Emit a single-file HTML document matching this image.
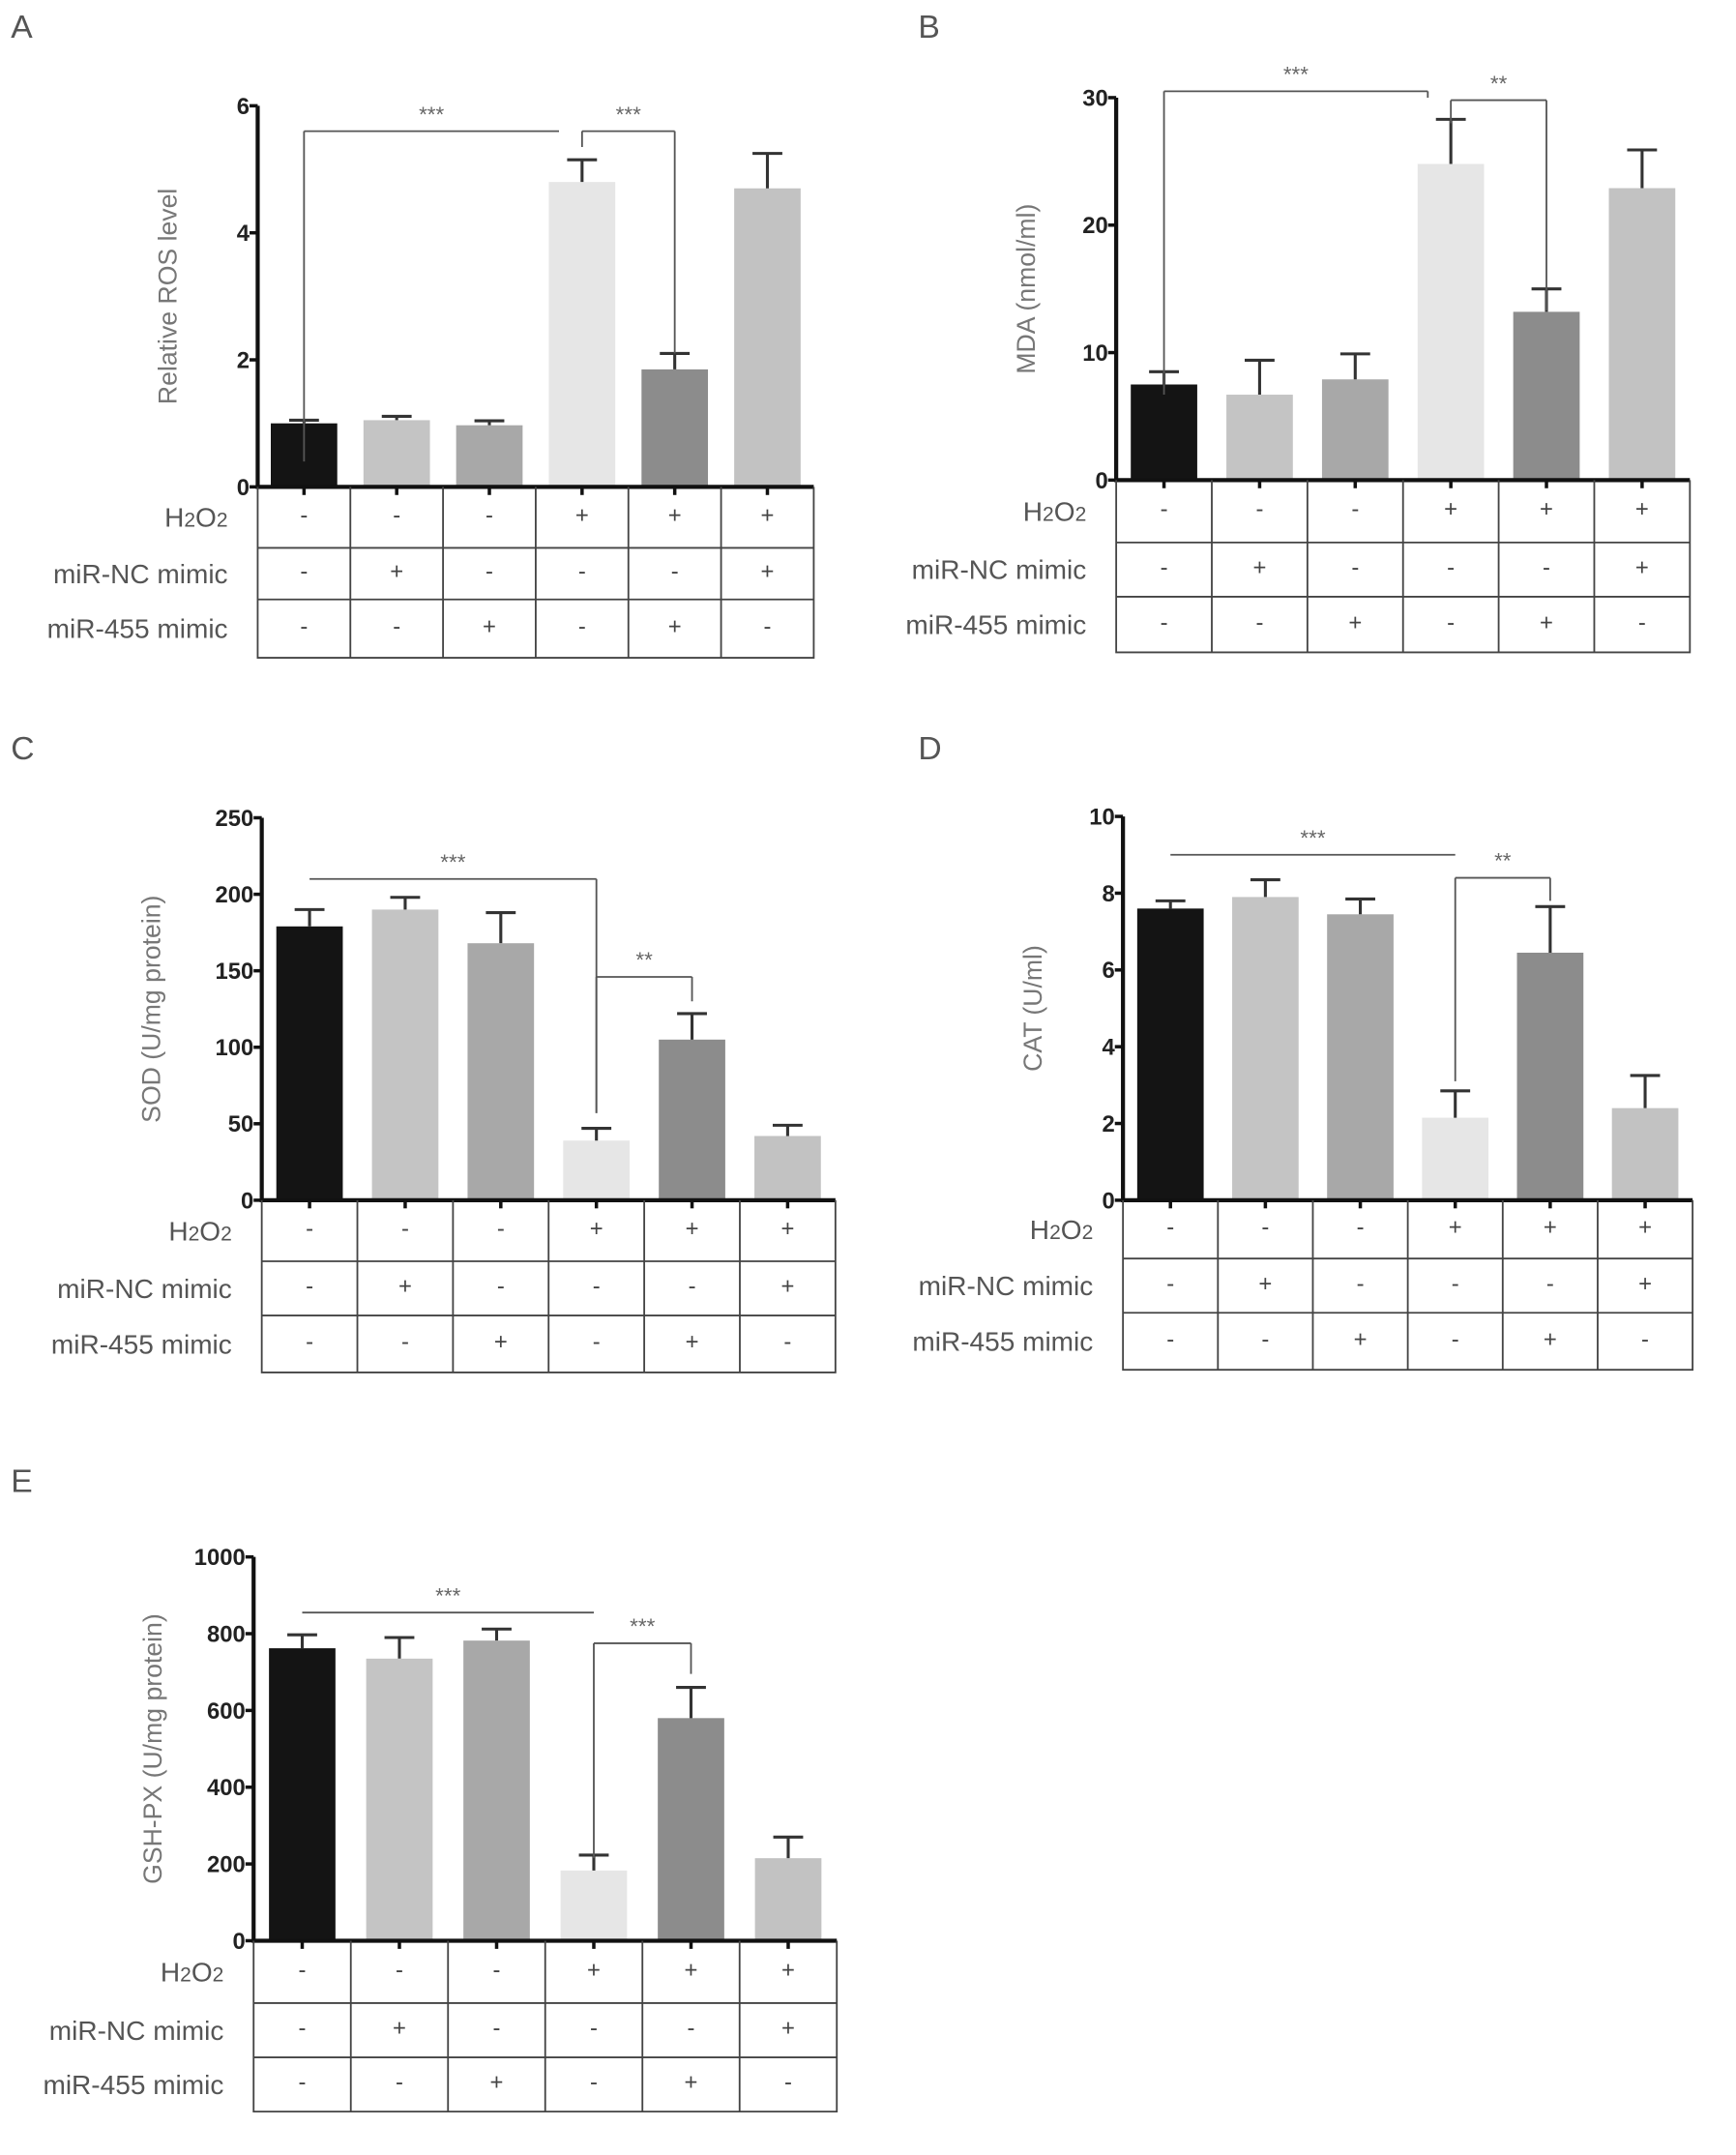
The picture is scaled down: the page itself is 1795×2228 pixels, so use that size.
<!DOCTYPE html>
<html><head><meta charset="utf-8"><style>
html,body{margin:0;padding:0;background:#fff}
svg{display:block}
text{font-family:"Liberation Sans",sans-serif}
</style></head><body>
<svg id="fig" width="1795" height="2228" viewBox="0 0 1280 1589" preserveAspectRatio="none" xmlns="http://www.w3.org/2000/svg"></svg>
<script>
// ---- data ----
const groupLabels = ["G1","G2","G3","G4","G5","G6"];
const h2o2Row = ["-","-","-","+","+","+"];
const ncRow = ["-","+","-","-","-","+"];
const mir455Row = ["-","-","+","-","+","-"];
const rosValues = [1.0, 1.05, 0.97, 4.8, 1.85, 4.7];
const rosErrors = [0.05, 0.06, 0.07, 0.35, 0.25, 0.55];
const rosTicks = [0, 2, 4, 6];
const mdaValues = [7.5, 6.7, 7.9, 24.8, 13.2, 22.9];
const mdaErrors = [1.0, 2.7, 2.0, 3.5, 1.8, 3.0];
const mdaTicks = [0, 10, 20, 30];
const sodValues = [179, 190, 168, 39, 105, 42];
const sodErrors = [11, 8, 20, 8, 17, 7];
const sodTicks = [0, 50, 100, 150, 200, 250];
const catValues = [7.6, 7.9, 7.45, 2.15, 6.45, 2.4];
const catErrors = [0.2, 0.45, 0.4, 0.7, 1.2, 0.85];
const catTicks = [0, 2, 4, 6, 8, 10];
const gshValues = [762, 735, 782, 183, 580, 215];
const gshErrors = [35, 55, 30, 40, 80, 55];
const gshTicks = [0, 200, 400, 600, 800, 1000];

const colors = ["#141414","#c4c4c4","#a8a8a8","#e6e6e6","#8c8c8c","#c2c2c2"];
const NS = "http://www.w3.org/2000/svg";
const svg = document.getElementById("fig");
function mk(tag, attrs, parent){
  const e = document.createElementNS(NS, tag);
  for (const k in attrs) e.setAttribute(k, attrs[k]);
  (parent||svg).appendChild(e); return e;
}
function txt(s, attrs, parent){ const e = mk("text", attrs, parent); e.textContent = s; return e; }

function panel(cfg){
  const g = mk("g", {});
  
  
  const max = cfg.ticks[cfg.ticks.length-1];
  const y = v => cfg.bot - (v/max)*(cfg.bot-cfg.top);
  const step = (cfg.right - cfg.ax)/6;
  const cx = i => cfg.ax + step*(i+0.5);
  const bw = 49;
  const letter = txt(cfg.letter, {x:cfg.lx, y:cfg.ly, "font-size":24, fill:"#555"}, g);
  
  
  cfg.values.forEach((v,i)=>{
    const r = mk("rect", {x:cx(i)-bw/2, y:y(v), width:bw, height:cfg.bot-y(v), fill:colors[i]}, g);
    
    
    const et = y(v+cfg.errors[i]);
    const eb = mk("path", {d:`M${cx(i)} ${y(v)}V${et}M${cx(i)-11} ${et}H${cx(i)+11}`, stroke:"#333", "stroke-width":2.2, fill:"none"}, g);
    
    
  });
  const ax = mk("path", {d:`M${cfg.ax} ${cfg.top}V${cfg.bot}H${cfg.right}`, stroke:"#111", "stroke-width":3, fill:"none"}, g);
  
  
  cfg.ticks.forEach(t=>{
    mk("line", {x1:cfg.ax-6, x2:cfg.ax, y1:y(t), y2:y(t), stroke:"#111", "stroke-width":2.5}, g);
    const tl = txt(String(t), {x:cfg.ax-6, y:y(t)+6, "font-size":17, "font-weight":"bold", fill:"#222", "text-anchor":"end"}, g);
    
    
  });
  const ym = (cfg.top+cfg.bot)/2, tx = cfg.ax - (cfg.titleOff||50);
  const yt = txt(cfg.title, {x:tx, y:ym, "font-size":19, fill:"#777", "text-anchor":"middle", transform:`rotate(-90 ${tx} ${ym})`}, g);
  
  
  const tb = mk("path", {d:`M${cfg.ax} ${cfg.bot}V${cfg.tb}H${cfg.right}V${cfg.bot}M${cfg.ax} ${cfg.r1}H${cfg.right}M${cfg.ax} ${cfg.r2}H${cfg.right}` + [1,2,3,4,5].map(k=>`M${cfg.ax+step*k} ${cfg.bot}V${cfg.tb}`).join(""), stroke:"#444", "stroke-width":1.3, fill:"none"}, g);
  
  
  for(let i=0;i<6;i++) mk("line",{x1:cx(i),x2:cx(i),y1:cfg.bot,y2:cfg.bot+6,stroke:"#111","stroke-width":2.5},g);
  const rows = [[h2o2Row, cfg.bot, cfg.r1],[ncRow, cfg.r1, cfg.r2],[mir455Row, cfg.r2, cfg.tb]];
  const names = ["h2o2","mir-nc-mimic","mir-455-mimic"];
  rows.forEach((r,ri)=>{
    const ty = (r[1]+r[2])/2 + 7;
    let lab;
    if(ri===0){
      lab = txt("", {x:cfg.ax-22, y:ty, "font-size":20, fill:"#555", "text-anchor":"end"}, g);
      lab.innerHTML = 'H<tspan font-size="15">2</tspan>O<tspan font-size="15">2</tspan>';
    } else {
      lab = txt(ri===1?"miR-NC mimic":"miR-455 mimic", {x:cfg.ax-22, y:ty, "font-size":20, fill:"#555", "text-anchor":"end"}, g);
    }
    
    
    r[0].forEach((s,i)=>{
      const c = txt(s, {x:cx(i), y:ty-3, "font-size":17, fill:"#444", "text-anchor":"middle"}, g);
      
      
    });
  });
  cfg.sig.forEach(s=>{
    const ly = y(s.level), x1 = cx(s.a)+(s.da||0), x2 = cx(s.b)+(s.db||0);
    let d = `M${x1} ${ly}H${x2}`;
    if(s.la!=null) d += `M${x1} ${ly}V${y(s.la)}`;
    if(s.lb!=null) d += `M${x2} ${ly}V${y(s.lb)}`;
    const p = mk("path", {d, stroke:"#555", "stroke-width":1.3, fill:"none"}, g);
    
    
    const st = txt(s.label, {x:(x1+x2)/2, y:ly-7, "font-size":16, fill:"#666", "text-anchor":"middle"}, g);
    
    
  });
}

panel({letter:"A", lx:8, ly:28, ax:190, top:78, bot:359, right:600, r1:404, r2:442, tb:485,
  values:rosValues, errors:rosErrors, ticks:rosTicks, title:"Relative ROS level", titleOff:60,
  sig:[{a:0,b:3,db:-17,level:5.6,la:0.4,label:"***"},{a:3,b:4,level:5.6,la:5.35,lb:2.1,label:"***"}]});
panel({letter:"B", lx:677, ly:28, ax:823, top:72, bot:354, right:1246, r1:400, r2:440, tb:481,
  values:mdaValues, errors:mdaErrors, ticks:mdaTicks, title:"MDA (nmol/ml)", titleOff:60,
  sig:[{a:0,b:3,db:-17,level:30.5,la:6.7,lb:30,label:"***"},{a:3,b:4,level:29.8,la:28,lb:13.3,label:"**"}]});
panel({letter:"C", lx:8, ly:560, ax:193, top:603, bot:885, right:616, r1:930, r2:970, tb:1012,
  values:sodValues, errors:sodErrors, ticks:sodTicks, title:"SOD (U/mg protein)", titleOff:75,
  sig:[{a:0,b:3,level:210,la:null,lb:57,label:"***"},{a:3,b:4,level:146,la:57,lb:130,label:"**"}]});
panel({letter:"D", lx:677, ly:560, ax:828, top:602, bot:885, right:1248, r1:928, r2:968, tb:1010,
  values:catValues, errors:catErrors, ticks:catTicks, title:"CAT (U/ml)", titleOff:60,
  sig:[{a:0,b:3,level:9.0,la:null,lb:null,label:"***"},{a:3,b:4,level:8.4,la:3.1,lb:7.8,label:"**"}]});
panel({letter:"E", lx:8, ly:1100, ax:187, top:1148, bot:1431, right:617, r1:1477, r2:1517, tb:1557,
  values:gshValues, errors:gshErrors, ticks:gshTicks, title:"GSH-PX (U/mg protein)", titleOff:68,
  sig:[{a:0,b:3,level:855,la:null,lb:null,label:"***"},{a:3,b:4,level:775,la:215,lb:695,label:"***"}]});
</script>
</body></html>
